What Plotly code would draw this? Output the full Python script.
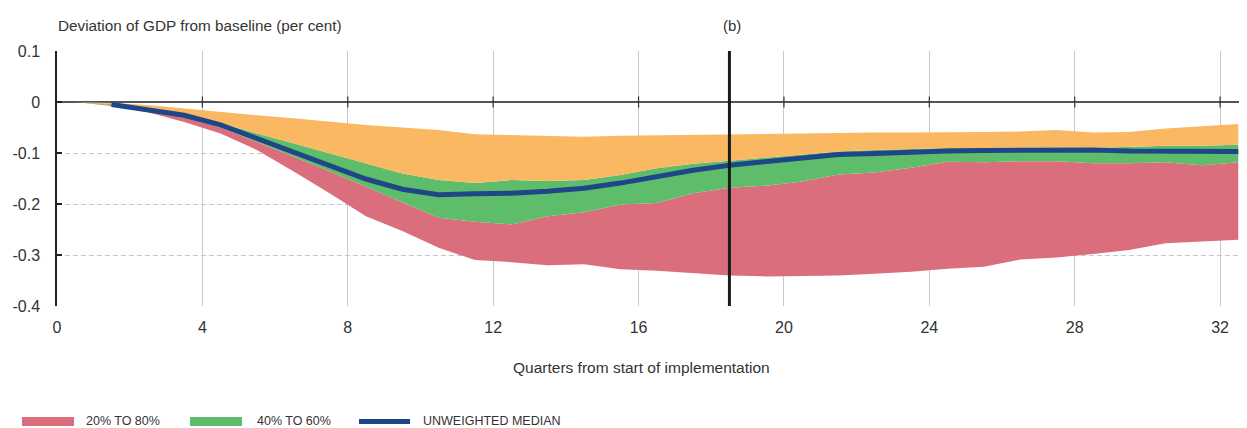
import plotly.graph_objects as go

# ---- data ----
quarters = [0.5, 1.5, 2.5, 3.5, 4.5, 5.5, 6.5, 7.5, 8.5, 9.5, 10.5, 11.5, 12.5, 13.5, 14.5, 15.5,
            16.5, 17.5, 18.5, 19.5, 20.5, 21.5, 22.5, 23.5, 24.5, 25.5, 26.5, 27.5, 28.5, 29.5,
            30.5, 31.5, 32.5]

upper_band = [0, -0.002, -0.006, -0.013, -0.020, -0.026, -0.032, -0.039, -0.045, -0.050, -0.055,
              -0.063, -0.065, -0.066, -0.068, -0.066, -0.065, -0.064, -0.063, -0.062, -0.062,
              -0.061, -0.060, -0.060, -0.060, -0.059, -0.058, -0.055, -0.060, -0.059, -0.052,
              -0.047, -0.043]

p60 = [0, -0.004, -0.013, -0.025, -0.041, -0.062, -0.081, -0.101, -0.121, -0.140, -0.153,
       -0.159, -0.153, -0.155, -0.153, -0.143, -0.130, -0.121, -0.115, -0.109, -0.104, -0.097,
       -0.094, -0.092, -0.090, -0.090, -0.089, -0.089, -0.090, -0.088, -0.086, -0.086, -0.084]

p40 = [0, -0.006, -0.017, -0.030, -0.050, -0.078, -0.107, -0.136, -0.166, -0.197, -0.227,
       -0.235, -0.240, -0.224, -0.216, -0.201, -0.198, -0.179, -0.168, -0.164, -0.156, -0.142,
       -0.138, -0.129, -0.117, -0.118, -0.116, -0.116, -0.120, -0.120, -0.118, -0.124, -0.118]

p20 = [0, -0.008, -0.020, -0.039, -0.062, -0.094, -0.136, -0.179, -0.224, -0.253, -0.286,
       -0.310, -0.314, -0.320, -0.318, -0.328, -0.331, -0.336, -0.340, -0.342, -0.341, -0.340,
       -0.337, -0.333, -0.327, -0.323, -0.309, -0.305, -0.298, -0.290, -0.277, -0.273, -0.270]

median = [None, -0.005, -0.015, -0.026, -0.045, -0.071, -0.097, -0.125, -0.151, -0.171, -0.182,
          -0.180, -0.179, -0.175, -0.169, -0.159, -0.146, -0.134, -0.124, -0.117, -0.110, -0.103,
          -0.101, -0.098, -0.096, -0.095, -0.094, -0.094, -0.094, -0.096, -0.097, -0.097, -0.097]

x_ticks = [0, 4, 8, 12, 16, 20, 24, 28, 32]
y_ticks = [-0.4, -0.3, -0.2, -0.1, 0, 0.1]
y_ticktext = ["-0.4", "-0.3", "-0.2", "-0.1", "0", "0.1"]
marker_quarter = 18.5

legend_labels = ["20% TO 80%", "40% TO 60%", "UNWEIGHTED MEDIAN"]

# ---- styling ----
PINK = "#DA6E7D"
GREEN = "#5EBD6B"
ORANGE = "#FBB863"
NAVY = "#1F4788"
TEXT = "#333333"
FONT = "Liberation Sans, Arial, sans-serif"
NARROW = "Liberation Sans Narrow, Arial Narrow, Liberation Sans, sans-serif"

# the page body adds an 8px margin; positions below are page pixels
OFF = 8
PAGE_W, PAGE_H = 1247, 428
W_FIG, H_FIG = PAGE_W - OFF, PAGE_H - OFF
PLOT_L, PLOT_T, PLOT_R, PLOT_B = 57, 51, 1247, 306   # page pixels of the plot area
L = PLOT_L - OFF
T = PLOT_T - OFF
R = PAGE_W - PLOT_R
B = PAGE_H - PLOT_B
PW = PLOT_R - PLOT_L
PH = PLOT_B - PLOT_T


def px_x(px):
    return (px - PLOT_L) / PW


def px_y(py):
    return (PLOT_B - py) / PH


fig = go.Figure()
fig.add_trace(go.Scatter(x=quarters, y=p20, mode="lines", line=dict(width=0, color=PINK),
                         showlegend=False, hoverinfo="skip"))
fig.add_trace(go.Scatter(x=quarters, y=p40, mode="lines", line=dict(width=0, color=PINK),
                         fill="tonexty", fillcolor=PINK, name=legend_labels[0], showlegend=False))
fig.add_trace(go.Scatter(x=quarters, y=p60, mode="lines", line=dict(width=0, color=GREEN),
                         fill="tonexty", fillcolor=GREEN, name=legend_labels[1], showlegend=False))
fig.add_trace(go.Scatter(x=quarters, y=upper_band, mode="lines", line=dict(width=0, color=ORANGE),
                         fill="tonexty", fillcolor=ORANGE, showlegend=False))
fig.add_trace(go.Scatter(x=quarters, y=median, mode="lines", line=dict(width=5, color=NAVY),
                         name=legend_labels[2], showlegend=False))

shapes = []
# tick marks crossing the zero line
for t in x_ticks[1:]:
    shapes.append(dict(type="line", xref="x", yref="y", x0=t, x1=t, y0=-0.011, y1=0.011,
                       line=dict(color="#333333", width=1.2), layer="above"))
# vertical marker line
shapes.append(dict(type="line", xref="x", yref="paper", x0=marker_quarter, x1=marker_quarter,
                   y0=0, y1=1, line=dict(color="#1a1a1a", width=3), layer="above"))

# manual legend (page pixels)
legend_items = [
    (legend_labels[0], PINK, 22, 74, 417, 426, 83.5),
    (legend_labels[1], GREEN, 190, 242, 417, 426, 255),
    (legend_labels[2], NAVY, 359, 410, 419, 424, 421),
]
annotations = []
for label, col, x0, x1, y0, y1, tx in legend_items:
    shapes.append(dict(type="rect", xref="paper", yref="paper", x0=px_x(x0), x1=px_x(x1),
                       y0=px_y(y1), y1=px_y(y0), fillcolor=col, line=dict(width=0)))
    annotations.append(dict(text=label, xref="paper", yref="paper", x=px_x(tx), y=px_y(420.5),
                            xanchor="left", yanchor="middle", showarrow=False,
                            font=dict(family=NARROW, size=12.5, color=TEXT)))

annotations += [
    dict(text="Deviation of GDP from baseline (per cent)", xref="paper", yref="paper",
         x=px_x(56), y=px_y(25.5), xanchor="left", yanchor="middle", showarrow=False,
         font=dict(family=FONT, size=15.3, color=TEXT)),
    dict(text="(b)", xref="x", yref="paper", x=marker_quarter, xshift=3, y=px_y(25.5),
         xanchor="center", yanchor="middle", showarrow=False,
         font=dict(family=FONT, size=15, color=TEXT)),
    dict(text="Quarters from start of implementation", xref="paper", yref="paper",
         x=px_x(641), y=px_y(367), xanchor="center", yanchor="middle", showarrow=False,
         font=dict(family=FONT, size=15.5, color=TEXT)),
]

fig.update_layout(
    width=W_FIG, height=H_FIG, autosize=False,
    margin=dict(l=L, r=R, t=T, b=B, pad=0),
    paper_bgcolor="white", plot_bgcolor="white",
    showlegend=False,
    shapes=shapes, annotations=annotations,
    xaxis=dict(range=[0, 32.74], tickvals=x_ticks, showgrid=True, gridcolor="#c8c8c8",
               gridwidth=1, zeroline=False, showline=False, ticks="",
               tickfont=dict(family=FONT, size=16, color=TEXT), ticklabelstandoff=10,
               fixedrange=True),
    yaxis=dict(range=[-0.4, 0.1], tickvals=y_ticks, ticktext=y_ticktext, showgrid=True,
               gridcolor="#c8c8c8", gridwidth=1, griddash="5px,3px",
               zeroline=True, zerolinecolor="#555555", zerolinewidth=1.5,
               showline=True, linecolor="#222222", linewidth=1.5,
               ticks="inside", ticklen=5, tickcolor="#222222", tickwidth=1.5,
               tickfont=dict(family=FONT, size=16, color=TEXT), ticklabelstandoff=12,
               fixedrange=True),
)

fig.write_html("out.html")
